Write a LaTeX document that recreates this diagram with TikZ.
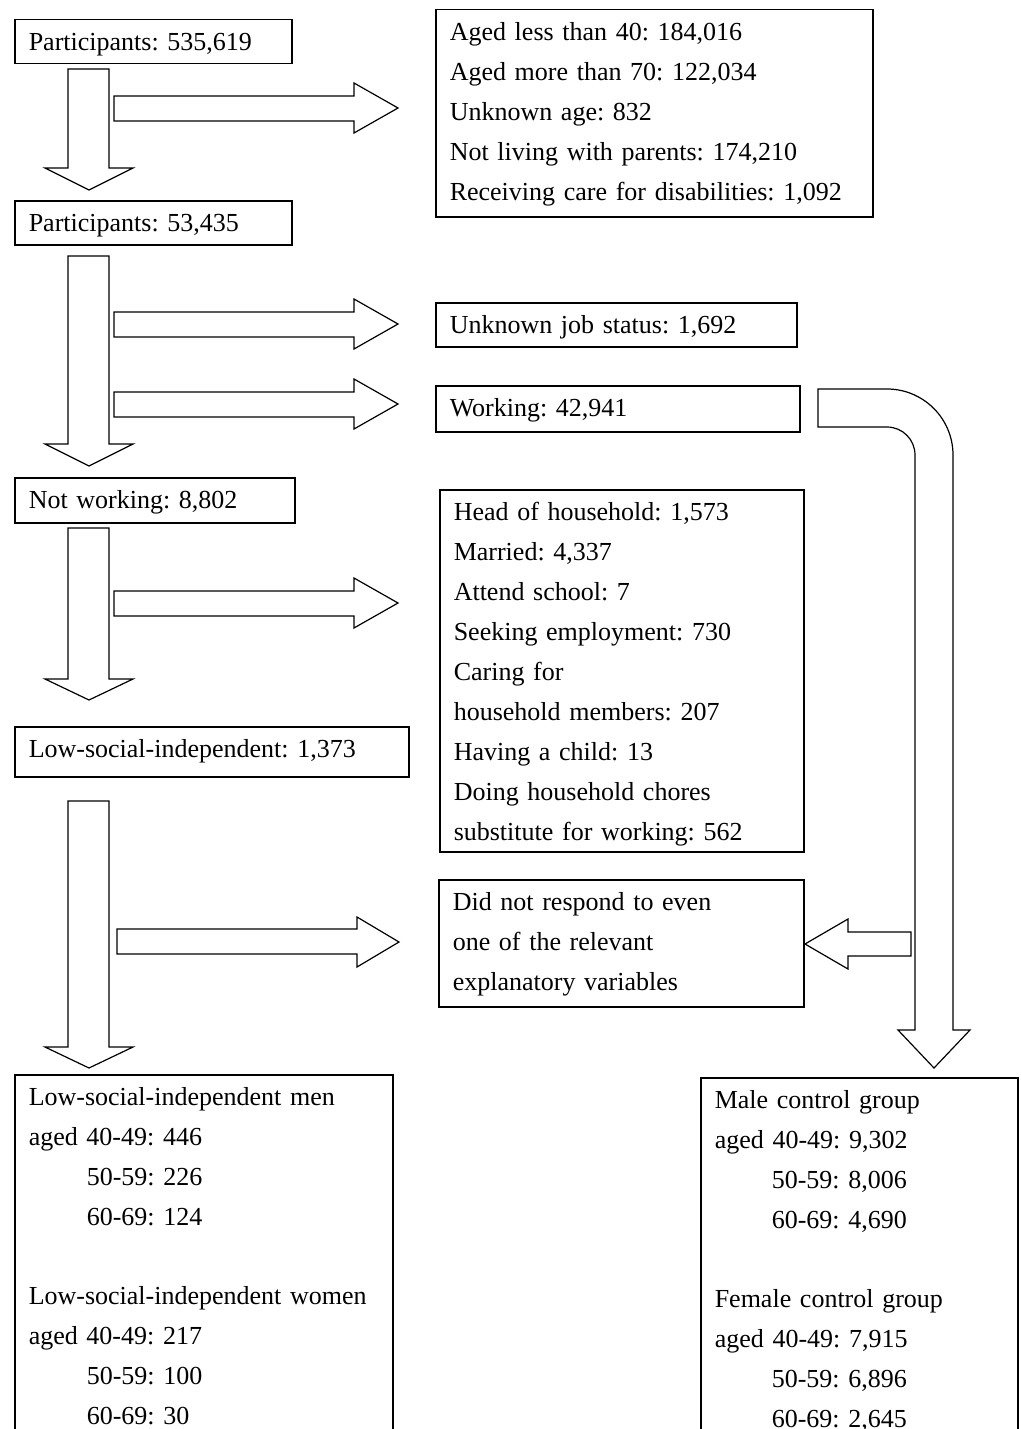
\documentclass[tikz,border=0pt]{standalone}
\usepackage{fontspec}
\setmainfont{Liberation Serif}
\frenchspacing

\begin{document}
\begin{tikzpicture}[x=1pt,y=-1pt,
  box/.style={draw,line width=1.5pt,anchor=north west,align=left,
    inner xsep=14pt,inner ysep=0pt,text height=31pt,
    font=\fontsize{26}{40}\selectfont},
  blk/.style={draw,line width=1.2pt,fill=white,line join=miter}]

\useasboundingbox (0,0) rectangle (1020,1429);
\clip (0,0) rectangle (1020,1429);

% ------------------------------------------------ left column
\node[box,text width=249pt,text depth=13pt] (part1) at (14,19) {Participants: 535,619};
\node[box,text width=249pt,text depth=13pt] (part2) at (14,200) {Participants: 53,435};
\node[box,text width=252pt,text depth=14pt] (notwork) at (14,477) {Not working: 8,802};
\node[box,text width=366pt,text depth=19pt] (lowsi) at (14,726) {Low-social-independent: 1,373};
\node[box,text width=350pt,text depth=400pt] (lowgrp) at (14,1074)
  {Low-social-independent men\\
   aged 40-49: 446\\
   \hspace*{58pt}50-59: 226\\
   \hspace*{58pt}60-69: 124\\[39pt]
   Low-social-independent women\\
   aged 40-49: 217\\
   \hspace*{58pt}50-59: 100\\
   \hspace*{58pt}60-69: 30};

% ------------------------------------------------ right column
\node[box,text width=409pt,text depth=176pt] (excl1) at (435,9)
  {Aged less than 40: 184,016\\
   Aged more than 70: 122,034\\
   Unknown age: 832\\
   Not living with parents: 174,210\\
   Receiving care for disabilities: 1,092};
\node[box,text width=333pt,text depth=13pt] (unkjob) at (435,302) {Unknown job status: 1,692};
\node[box,text width=336pt,text depth=15pt] (working) at (435,385) {Working: 42,941};
\node[box,text width=336pt,text depth=331pt] (excl2) at (439,489)
  {Head of household: 1,573\\
   Married: 4,337\\
   Attend school: 7\\
   Seeking employment: 730\\
   Caring for\\
   household members: 207\\
   Having a child: 13\\
   Doing household chores\\
   substitute for working: 562};
\node[box,text width=337pt,text depth=96pt] (nores) at (438,879)
  {Did not respond to even\\
   one of the relevant\\
   explanatory variables};
\node[box,text width=289pt,text depth=400pt] (ctrlgrp) at (700,1077)
  {Male control group\\
   aged 40-49: 9,302\\
   \hspace*{57pt}50-59: 8,006\\
   \hspace*{57pt}60-69: 4,690\\[39pt]
   Female control group\\
   aged 40-49: 7,915\\
   \hspace*{57pt}50-59: 6,896\\
   \hspace*{57pt}60-69: 2,645};

% ------------------------------------------------ downward block arrows
\draw[blk] (68,69) -- (109,69) -- (109,168) -- (133,168) -- (89,190) -- (45,168) -- (68,168) -- cycle;
\draw[blk] (68,256) -- (109,256) -- (109,444) -- (133,444) -- (89,466) -- (45,444) -- (68,444) -- cycle;
\draw[blk] (68,528) -- (109,528) -- (109,679) -- (133,679) -- (89,700) -- (45,679) -- (68,679) -- cycle;
\draw[blk] (68,801) -- (109,801) -- (109,1047) -- (133,1047) -- (89,1068) -- (45,1047) -- (68,1047) -- cycle;

% ------------------------------------------------ sideways block arrows
\draw[blk] (114,96) -- (354,96) -- (354,83) -- (398,108) -- (354,133) -- (354,121) -- (114,121) -- cycle;
\draw[blk] (114,312) -- (354,312) -- (354,299) -- (398,324) -- (354,349) -- (354,337) -- (114,337) -- cycle;
\draw[blk] (114,392) -- (354,392) -- (354,379) -- (398,404) -- (354,429) -- (354,417) -- (114,417) -- cycle;
\draw[blk] (114,591) -- (354,591) -- (354,578) -- (398,603) -- (354,628) -- (354,616) -- (114,616) -- cycle;
\draw[blk] (117,929) -- (357,929) -- (357,917) -- (399,942) -- (357,967) -- (357,954) -- (117,954) -- cycle;

% ------------------------------------------------ working -> control group
\draw[blk] (818,389) -- (887,389) arc[start angle=-90,end angle=0,radius=66]
  -- (953,1030) -- (970,1030) -- (934,1068) -- (898,1030) -- (915,1030)
  -- (915,455) arc[start angle=0,end angle=-90,radius=28] -- (818,427) -- cycle;
\draw[blk] (911,932) -- (848,932) -- (848,919) -- (805,944) -- (848,969) -- (848,956) -- (911,956) -- cycle;

\end{tikzpicture}
\end{document}
